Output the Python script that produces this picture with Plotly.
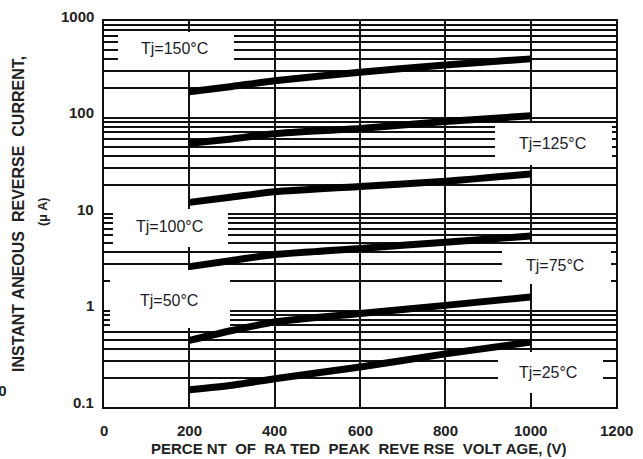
import math
import plotly.graph_objects as go

# ---------------- data ----------------
voltage = [200, 300, 400, 600, 800, 1000]
ir_150 = [185, 210, 240, 295, 350, 405]
ir_125 = [54, 60, 68, 77, 91, 104]
ir_100 = [13.2, 15.0, 17.0, 19.3, 21.8, 26.0]
ir_75 = [2.85, 3.3, 3.8, 4.4, 5.1, 5.9]
ir_50 = [0.49, 0.62, 0.76, 0.93, 1.13, 1.38]
ir_25 = [0.151, 0.168, 0.196, 0.26, 0.355, 0.47]

series_names = ["Tj=150°C", "Tj=125°C", "Tj=100°C", "Tj=75°C", "Tj=50°C", "Tj=25°C"]
series_values = [ir_150, ir_125, ir_100, ir_75, ir_50, ir_25]

x_ticks = [0, 200, 400, 600, 800, 1000, 1200]
x_grid = [200, 400, 600, 800, 1000]
y_ticks = [0.1, 1, 10, 100, 1000]
y_tick_labels = ["0.1", "1", "10", "100", "1000"]
y_grid = [m * 10 ** e for e in range(-1, 3) for m in range(1, 10)] + [1000]

# ---------------- layout helpers (pixel -> paper / data) ----------------
W, H = 643, 459
L, R, T, B = 104, 616, 21, 407
X_MAX = 1200
DEC_TOP, DEC_BOT = 3, -1


def px_x(p):
    return (p - L) / (R - L)


def px_y(p):
    return (B - p) / (B - T)


def dx(p):
    return px_x(p) * X_MAX


def dy(p):
    return 10 ** (DEC_BOT + px_y(p) * (DEC_TOP - DEC_BOT))


FONT = "Liberation Sans, Arial, sans-serif"
NB = "&nbsp;"

fig = go.Figure()
for name, vals in zip(series_names, series_values):
    fig.add_trace(go.Scatter(
        x=voltage, y=vals, mode="lines", name=name,
        line=dict(color="black", width=7, shape="spline", smoothing=0.6),
        showlegend=False, hoverinfo="skip"))

# white label boxes (between gridlines and traces) with label texts
boxes = [  # (left, top, right, bottom) px, label centre px
    ((118, 32, 234, 70), (174, 48)),
    ((495, 123, 612, 165), (552, 143)),
    ((113, 209, 228, 247), (169, 226)),
    ((502, 244, 611, 284), (555, 265)),
    ((110, 270, 230, 328), (169, 300)),
    ((498, 352, 603, 393), (548, 372)),
]
shapes = []
annotations = []
for name, ((x0, y0, x1, y1), (cx, cy)) in zip(series_names, boxes):
    shapes.append(dict(type="rect", xref="x", yref="y",
                       x0=dx(x0), x1=dx(x1), y0=dy(y1), y1=dy(y0),
                       fillcolor="white", line=dict(width=0), layer="between"))
    annotations.append(dict(xref="paper", yref="paper", x=px_x(cx), y=px_y(cy),
                            text=name, showarrow=False, xanchor="center", yanchor="middle",
                            font=dict(family=FONT, size=16, color="#1c1c28")))

# y tick labels
for v, t in zip(y_ticks, y_tick_labels):
    annotations.append(dict(xref="paper", yref="y", x=px_x(96), y=math.log10(v), yshift=5,
                            text="<b>%s</b>" % t, showarrow=False, xanchor="right", yanchor="middle",
                            font=dict(family=FONT, size=15, color="#222")))
# x tick labels
for v in x_ticks:
    annotations.append(dict(xref="x", yref="paper", x=v, y=px_y(430),
                            text="<b>%d</b>" % v, showarrow=False, xanchor="center", yanchor="middle",
                            font=dict(family=FONT, size=15, color="#222")))

# axis titles
xtitle = NB.join(["PERCE", "NT", "", "OF", "", "RA", "TED", "", "PEAK", "", "REVE",
                  "RSE", "", "VOLT", "AGE,", "(V)"])
annotations.append(dict(xref="paper", yref="paper", x=px_x(359), y=px_y(448),
                        text="<b>%s</b>" % xtitle,
                        showarrow=False, xanchor="center", yanchor="middle",
                        font=dict(family=FONT, size=15, color="#222")))
ytitle = NB.join(["INSTANT", "ANEOUS", "", "REVERSE", "", "CURRENT,"])
annotations.append(dict(xref="paper", yref="paper", x=px_x(18), y=px_y(214),
                        text="<b>%s</b>" % ytitle, textangle=-90,
                        showarrow=False, xanchor="center", yanchor="middle",
                        font=dict(family=FONT, size=16, color="#222")))
annotations.append(dict(xref="paper", yref="paper", x=px_x(43), y=px_y(212),
                        text="<b>(μ A)</b>", textangle=-90,
                        showarrow=False, xanchor="center", yanchor="middle",
                        font=dict(family=FONT, size=12.5, color="#222")))
annotations.append(dict(xref="paper", yref="paper", x=px_x(9), y=px_y(390),
                        text="<b>00</b>", showarrow=False, xanchor="right", yanchor="middle",
                        font=dict(family=FONT, size=15, color="#222")))

fig.update_layout(
    width=W, height=H,
    margin=dict(l=L, r=W - R, t=T, b=H - B),
    paper_bgcolor="white", plot_bgcolor="white",
    shapes=shapes, annotations=annotations,
    xaxis=dict(range=[0, X_MAX], tickvals=x_grid, showticklabels=False, ticks="",
               showgrid=True, gridcolor="#111", gridwidth=1.6, zeroline=False,
               showline=True, mirror=True, linecolor="#111", linewidth=2),
    yaxis=dict(type="log", range=[DEC_BOT, DEC_TOP], tickvals=y_grid, showticklabels=False, ticks="",
               showgrid=True, gridcolor="#111", gridwidth=1.6, zeroline=False,
               showline=True, mirror=True, linecolor="#111", linewidth=2),
)

fig.write_html("out.html", config={"displayModeBar": False},
               post_script="document.body.style.margin='0px';")
